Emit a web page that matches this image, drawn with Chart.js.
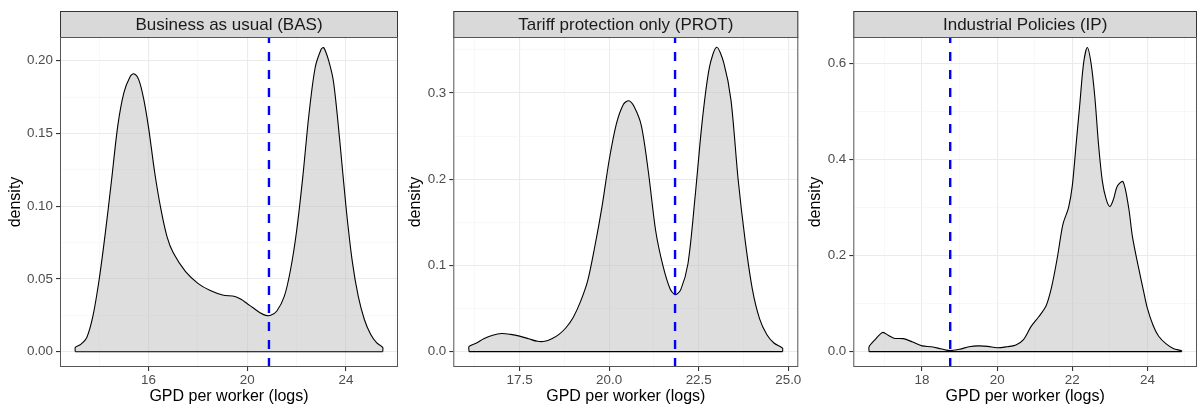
<!DOCTYPE html>
<html>
<head>
<meta charset="utf-8">
<script src="https://cdn.jsdelivr.net/npm/chart.js@4/dist/chart.umd.min.js"></script>
<style>
  body { margin: 0; background: #fff; }
  #wrap { position: relative; width: 1198px; height: 405px; overflow: hidden; }
  .panel { position: absolute; top: 0; height: 405px; }
</style>
</head>
<body>
<div id="wrap">
  <div class="panel" style="left:0;width:400px"><canvas id="c1"></canvas></div>
  <div class="panel" style="left:400px;width:430px"><canvas id="c2"></canvas></div>
  <div class="panel" style="left:800px;width:398px"><canvas id="c3"></canvas></div>
</div>
<script>
// panel titles
var titles = ['Business as usual (BAS)', 'Tariff protection only (PROT)', 'Industrial Policies (IP)'];

// density estimates (x = log GDP per worker, y = density)
var basX = [13.03, 13.03, 13.25, 13.5, 13.75, 14.0, 14.25, 14.5, 14.75, 15.0, 15.25, 15.4, 15.6, 15.8, 16.0, 16.25, 16.5, 16.75, 17.0, 17.5, 18.0, 18.5, 19.0, 19.5, 19.75, 20.0, 20.25, 20.5, 20.75, 20.95, 21.2, 21.5, 21.75, 22.0, 22.25, 22.5, 22.75, 23.0, 23.1, 23.3, 23.5, 23.75, 24.0, 24.25, 24.5, 24.75, 25.0, 25.25, 25.49, 25.49];
var basY = [0, 0.003, 0.005, 0.010, 0.025, 0.050, 0.082, 0.118, 0.155, 0.178, 0.189, 0.191, 0.187, 0.174, 0.154, 0.123, 0.098, 0.079, 0.068, 0.055, 0.047, 0.042, 0.039, 0.038, 0.036, 0.033, 0.030, 0.027, 0.025, 0.025, 0.028, 0.038, 0.056, 0.083, 0.120, 0.163, 0.195, 0.208, 0.209, 0.200, 0.185, 0.145, 0.100, 0.063, 0.038, 0.022, 0.012, 0.006, 0.003, 0];

var protX = [16.09, 16.09, 16.3, 16.5, 16.75, 17.0, 17.25, 17.5, 17.75, 18.0, 18.2, 18.4, 18.6, 18.8, 19.0, 19.2, 19.4, 19.6, 19.8, 20.0, 20.2, 20.4, 20.55, 20.7, 20.9, 21.1, 21.3, 21.5, 21.7, 21.85, 22.0, 22.2, 22.4, 22.6, 22.8, 23.0, 23.2, 23.4, 23.6, 23.8, 24.0, 24.2, 24.4, 24.6, 24.84, 24.84];
var protY = [0, 0.006, 0.010, 0.015, 0.019, 0.021, 0.020, 0.018, 0.015, 0.012, 0.012, 0.015, 0.020, 0.028, 0.040, 0.058, 0.082, 0.122, 0.168, 0.222, 0.264, 0.287, 0.291, 0.284, 0.262, 0.207, 0.140, 0.100, 0.073, 0.066, 0.072, 0.102, 0.180, 0.268, 0.330, 0.353, 0.335, 0.292, 0.200, 0.128, 0.072, 0.038, 0.020, 0.010, 0.004, 0];

var ipX = [16.59, 16.59, 16.75, 16.95, 17.1, 17.25, 17.5, 17.75, 18.0, 18.25, 18.5, 18.75, 19.0, 19.25, 19.5, 19.75, 20.0, 20.25, 20.5, 20.7, 20.9, 21.1, 21.3, 21.45, 21.6, 21.75, 21.9, 22.0, 22.1, 22.2, 22.3, 22.4, 22.5, 22.6, 22.7, 22.8, 22.9, 23.0, 23.1, 23.2, 23.35, 23.5, 23.6, 23.75, 23.9, 24.0, 24.15, 24.3, 24.5, 24.7, 24.91, 24.91];
var ipY = [0, 0.010, 0.025, 0.040, 0.034, 0.028, 0.027, 0.020, 0.012, 0.010, 0.006, 0.002, 0.005, 0.010, 0.012, 0.011, 0.008, 0.010, 0.014, 0.025, 0.052, 0.072, 0.095, 0.135, 0.195, 0.265, 0.300, 0.345, 0.430, 0.515, 0.600, 0.633, 0.600, 0.530, 0.430, 0.355, 0.318, 0.302, 0.318, 0.345, 0.354, 0.300, 0.240, 0.180, 0.125, 0.090, 0.055, 0.032, 0.016, 0.006, 0.002, 0];

// dashed reference lines
var vlines = [20.88, 21.84, 18.75];

// axis limits and ticks
var xLims = [[12.41, 26.11], [15.65, 25.28], [16.17, 25.32]];
var yLims = [[-0.0105, 0.2163], [-0.0178, 0.365], [-0.032, 0.655]];
var xMajor = [[16, 20, 24], [17.5, 20, 22.5, 25], [18, 20, 22, 24]];
var xMinor = [[14, 18, 22, 26], [16.25, 18.75, 21.25, 23.75], [17, 19, 21, 23, 25]];
var yMajor = [[0, 0.05, 0.10, 0.15, 0.20], [0, 0.1, 0.2, 0.3], [0, 0.2, 0.4, 0.6]];
var yMinor = [[0.025, 0.075, 0.125, 0.175], [0.05, 0.15, 0.25, 0.35], [0.1, 0.3, 0.5]];
var xDigits = [0, 1, 0];
var yDigits = [2, 1, 1];

var FONT = "'Liberation Sans', Arial, sans-serif";

// strip header + panel border
var stripPlugin = {
    id: 'strip',
    afterDatasetsDraw: function (chart, args, opts) {
        var a = chart.chartArea, ctx = chart.ctx;
        ctx.save();
        ctx.fillStyle = '#d9d9d9';
        ctx.fillRect(a.left, 11, a.right - a.left, a.top - 11);
        ctx.strokeStyle = '#333';
        ctx.lineWidth = 1;
        ctx.strokeRect(a.left + 0.5, 11.5, a.right - a.left - 1, a.top - 11);
        ctx.strokeStyle = '#555';
        ctx.strokeRect(a.left + 0.5, a.top + 0.5, a.right - a.left - 1, a.bottom - a.top - 1);
        ctx.fillStyle = '#1a1a1a';
        ctx.font = '17px ' + FONT;
        ctx.textAlign = 'center';
        ctx.textBaseline = 'middle';
        ctx.fillText(opts.text, (a.left + a.right) / 2, (11 + a.top) / 2 + 1);
        ctx.restore();
    }
};

function near(list, v) {
    return list.some(function (m) { return Math.abs(m - v) < 1e-6; });
}

function makePanel(i, id, xs, ys, yW, padRight) {
    var pts = xs.map(function (x, k) { return {x: x, y: ys[k]}; });
    var major = xMajor[i], ymaj = yMajor[i];
    var gridX = {
        color: function (c) { return near(major, c.tick.value) ? '#ebebeb' : '#f4f4f4'; },
        lineWidth: function (c) { return near(major, c.tick.value) ? 1.1 : 0.6; },
        tickColor: function (c) { return near(major, c.tick.value) ? '#333' : 'rgba(0,0,0,0)'; },
        tickLength: 4,
        drawTicks: true
    };
    var gridY = {
        color: function (c) { return near(ymaj, c.tick.value) ? '#ebebeb' : '#f4f4f4'; },
        lineWidth: function (c) { return near(ymaj, c.tick.value) ? 1.1 : 0.6; },
        tickColor: function (c) { return near(ymaj, c.tick.value) ? '#333' : 'rgba(0,0,0,0)'; },
        tickLength: 4,
        drawTicks: true
    };
    return new Chart(document.getElementById(id), {
        type: 'line',
        data: {
            datasets: [{
                // density outline + fill
                data: pts,
                borderColor: '#000',
                borderWidth: 1.1,
                backgroundColor: 'rgba(190,190,190,0.5)',
                fill: 'origin',
                pointRadius: 0,
                tension: 0.3,
                order: 2
            }, {
                // bottom edge of the density polygon
                data: [{x: xs[0], y: 0}, {x: xs[xs.length - 1], y: 0}],
                borderColor: '#000',
                borderWidth: 1.1,
                fill: false,
                pointRadius: 0,
                order: 1
            }, {
                data: [{x: vlines[i], y: yLims[i][0]}, {x: vlines[i], y: yLims[i][1]}],
                borderColor: '#0000ff',
                borderWidth: 2.4,
                borderDash: [9, 9],
                fill: false,
                pointRadius: 0,
                order: 0
            }]
        },
        options: {
            responsive: true,
            maintainAspectRatio: false,
            animation: false,
            events: [],
            layout: {padding: {top: 37, right: padRight, left: 0, bottom: 0}},
            plugins: {legend: {display: false}, tooltip: {enabled: false}, strip: {text: titles[i]}},
            scales: {
                x: {
                    type: 'linear',
                    min: xLims[i][0], max: xLims[i][1],
                    afterBuildTicks: function (s) {
                        s.ticks = xMajor[i].concat(xMinor[i]).sort(function (a, b) { return a - b; })
                            .map(function (v) { return {value: v}; });
                    },
                    afterFit: function (s) { s.height = 38; },
                    grid: gridX,
                    border: {display: false},
                    ticks: {
                        autoSkip: false, maxRotation: 0, padding: 1,
                        color: '#4d4d4d', font: {family: FONT, size: 13.4},
                        callback: function (v) { return near(major, v) ? v.toFixed(xDigits[i]) : ''; }
                    },
                    title: {display: true, text: 'GPD per worker (logs)', color: '#000',
                        font: {family: FONT, size: 16}, padding: {top: 0, bottom: -1}}
                },
                y: {
                    type: 'linear',
                    min: yLims[i][0], max: yLims[i][1],
                    afterBuildTicks: function (s) {
                        s.ticks = yMajor[i].concat(yMinor[i]).sort(function (a, b) { return a - b; })
                            .map(function (v) { return {value: v}; });
                    },
                    afterFit: function (s) { s.width = yW; },
                    grid: gridY,
                    border: {display: false},
                    ticks: {
                        autoSkip: false, padding: 3,
                        color: '#4d4d4d', font: {family: FONT, size: 13.4},
                        callback: function (v) { return near(ymaj, v) ? v.toFixed(yDigits[i]) : ''; }
                    },
                    title: {display: true, text: 'density', color: '#000',
                        font: {family: FONT, size: 16}, padding: {top: 6, bottom: 0}}
                }
            }
        },
        plugins: [stripPlugin]
    });
}

makePanel(0, 'c1', basX, basY, 60, 2);
makePanel(1, 'c2', protX, protY, 53.3, 31.7);
makePanel(2, 'c3', ipX, ipY, 53.3, 1);
</script>
</body>
</html>
